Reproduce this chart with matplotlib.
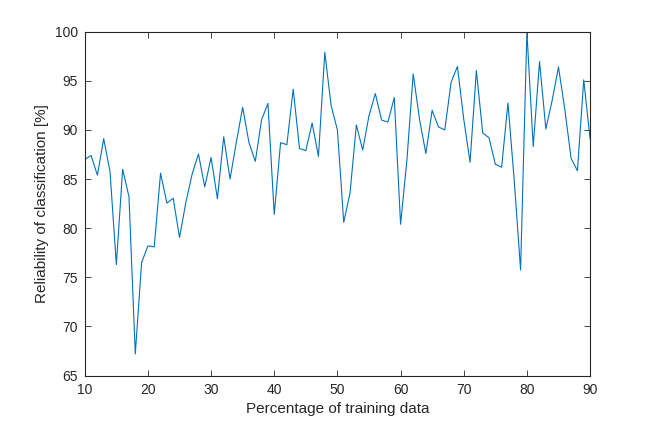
import numpy as np
import matplotlib.pyplot as plt

plt.rcParams["font.family"] = ["Liberation Sans", "DejaVu Sans"]

# training percentage 10..90 and classification reliability [%]
train_pct = list(range(10, 91))
reliability = [
    87.0, 87.4, 85.4, 89.1, 85.75, 76.3, 86.0, 83.2, 67.2, 76.5,
    78.2, 78.1, 85.6, 82.55, 83.05, 79.05, 82.6, 85.5, 87.55, 84.2,
    87.2, 83.0, 89.3, 85.0, 88.75, 92.3, 88.7, 86.8, 91.05, 92.7,
    81.4, 88.7, 88.5, 94.15, 88.1, 87.9, 90.7, 87.3, 97.9, 92.5,
    90.0, 80.6, 83.6, 90.5, 87.95, 91.45, 93.7, 91.0, 90.8, 93.3,
    80.4, 86.9, 95.7, 91.1, 87.6, 92.0, 90.3, 90.0, 94.85, 96.45,
    91.1, 86.7, 96.05, 89.7, 89.2, 86.5, 86.2, 92.75, 84.8, 75.75,
    100.0, 88.3, 96.95, 90.1, 93.0, 96.4, 92.1, 87.1, 85.85, 95.1,
    89.1,
]

text_col = (0.15, 0.15, 0.15)

fig = plt.figure(figsize=(6.52, 4.22), dpi=100)
ax = fig.add_axes([0.13, 0.11, 0.775, 0.815])

ax.plot(train_pct, reliability, color="#0072BD", linewidth=0.8)

ax.set_xlim(10, 90)
ax.set_ylim(65, 100)
ax.set_xticks(np.arange(10, 91, 10))
ax.set_yticks(np.arange(65, 101, 5))

ax.tick_params(direction="in", length=4, width=0.6, top=True, right=True,
               colors=text_col, labelsize=10, labelcolor=text_col, pad=5)
for s in ax.spines.values():
    s.set_linewidth(0.8)
    s.set_color(text_col)

ax.set_xlabel("Percentage of training data", fontsize=11, color=text_col)
ax.set_ylabel("Reliability of classification [%]", fontsize=11, color=text_col)

fig.savefig("out.png", dpi=100)
